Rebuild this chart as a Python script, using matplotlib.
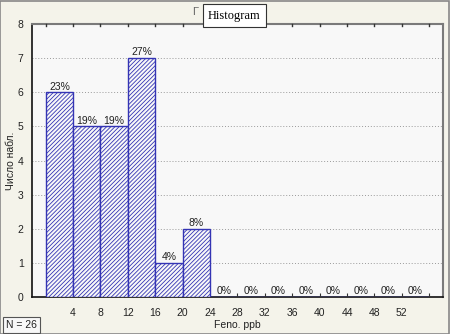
import numpy as np
import matplotlib.pyplot as plt

# данные гистограммы
bin_edges = np.arange(0, 60, 4)
counts = [6, 5, 5, 7, 1, 2, 0, 0, 0, 0, 0, 0, 0, 0]
n_total = 26
xtick_vals = [4, 8, 12, 16, 20, 24, 28, 32, 36, 40, 44, 48, 52]

plt.rcParams['font.family'] = ['Liberation Sans', 'DejaVu Sans']
plt.rcParams['hatch.color'] = '#3a3a78'
plt.rcParams['hatch.linewidth'] = 0.6

fig = plt.figure(figsize=(4.5, 3.34), dpi=100, facecolor='#f4f3ea')
ax = fig.add_axes([0.0711, 0.1108, 0.9133, 0.8172], facecolor='#f8f8f8')

centers = bin_edges[:-1] + 2
ax.bar(centers, counts, width=4, color='#f8f8f8', edgecolor='#3434b4',
       hatch='////////', linewidth=1.0, zorder=3)

# подписи процентов
for c, v in zip(centers, counts):
    pct = int(round(100.0 * v / n_total))
    ax.text(c, v + 0.02, '%d%%' % pct, ha='center', va='bottom',
            fontsize=7.5, color='#222222', zorder=4)

# мелкие отметки границ пустых интервалов
empty_edges = [e for e, v in zip(bin_edges[1:], counts) if v == 0]
ax.vlines(empty_edges, 0, 0.12, color='#333333', linewidth=0.8, zorder=4)

ax.set_xlim(-2, 58)
ax.set_ylim(0, 8)
ax.set_yticks(range(0, 9))
ax.set_xticks(xtick_vals)
ax.tick_params(axis='both', labelsize=7.5, colors='#222222', length=0, pad=6)
ax.tick_params(axis='x', pad=8)
ax.yaxis.grid(True, linestyle=(0, (1, 2)), color='#9a9a9a', linewidth=0.7)
ax.set_axisbelow(True)

# верхние засечки
top_ticks = np.arange(0, 60, 4)
for t in top_ticks:
    ax.plot([t, t], [8, 7.93], color='#333333', linewidth=1, clip_on=False, zorder=5)

for s in ['left', 'bottom']:
    ax.spines[s].set_color('#111111')
    ax.spines[s].set_linewidth(1.2)
for s in ['top', 'right']:
    ax.spines[s].set_color('#7a7a7a')
    ax.spines[s].set_linewidth(1.5)

fig.text(0.024, 0.52, 'Число набл.', fontsize=7.5, rotation=90, ha='center', va='center',
         color='#222222')
fig.text(0.527, 0.027, 'Feno. ppb', fontsize=7.5, ha='center', va='center', color='#222222')

# заголовок в рамке
fig.text(0.433, 0.965, 'Г', fontsize=8, ha='center', va='center', color='#666666')
fig.text(0.521, 0.953, 'Histogram', fontsize=9, ha='center', va='center',
         family='Liberation Serif', color='black',
         bbox=dict(boxstyle='square,pad=0.45', facecolor='white', edgecolor='#333333', linewidth=0.8))

fig.text(0.047, 0.027, 'N = 26', fontsize=7.5, ha='center', va='center', color='#222222',
         bbox=dict(boxstyle='square,pad=0.3', facecolor='#f8f8f8', edgecolor='#555555', linewidth=0.8))

# рамка рисунка
fig.patches.append(plt.Rectangle((0.001, 0.001), 0.997, 0.997, transform=fig.transFigure,
                                 fill=False, edgecolor='#888888', linewidth=1.2))

fig.savefig('out.png', dpi=100, facecolor=fig.get_facecolor())
